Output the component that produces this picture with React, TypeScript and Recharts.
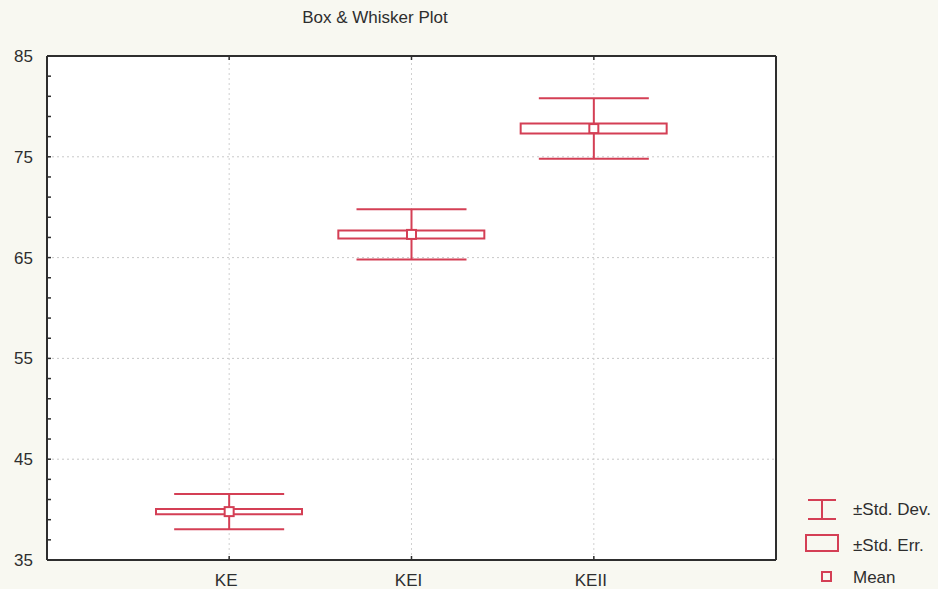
import React from "react";
import {
  ComposedChart,
  Bar,
  Line,
  XAxis,
  YAxis,
  ErrorBar,
  ReferenceLine,
  CartesianGrid,
} from "recharts";

// values
const groups = ["KE", "KEI", "KEII"];
const means = [39.8, 67.3, 77.8];
const stdDevs = [1.75, 2.5, 3.0];
const stdErrs = [0.25, 0.4, 0.5];

const yTicks = [35, 37, 39, 41, 43, 45, 47, 49, 51, 53, 55, 57, 59, 61, 63, 65, 67, 69, 71, 73, 75, 77, 79, 81, 83, 85];
const yLabels = [35, 45, 55, 65, 75, 85];
const gridValues = [45, 55, 65, 75];

const RED = "#d43f55";
const INK = "#2e2e2e";
const FONT = "'Liberation Sans', Arial, sans-serif";

const data = groups.map((name, i) => ({
  name,
  mean: means[i],
  sd: stdDevs[i],
  se: [means[i] - stdErrs[i], means[i] + stdErrs[i]],
}));

// ticks point into the plot, like the original Statistica frame
function LeftTick(props: any) {
  const { x, y, payload } = props;
  const v = payload.value;
  return (
    <g>
      <line x1={x} x2={x + 4} y1={y} y2={y} stroke={INK} strokeWidth={1.5} />
      {yLabels.includes(v) && (
        <text x={x - 14} y={y + 6} textAnchor="end" fontSize={17} fill={INK} fontFamily={FONT}>
          {v}
        </text>
      )}
    </g>
  );
}

function RightTick(props: any) {
  const { x, y } = props;
  return <line x1={x} x2={x - 4} y1={y} y2={y} stroke={INK} strokeWidth={1.5} />;
}

function BottomTick(props: any) {
  const { x, y, payload } = props;
  return (
    <g>
      <line x1={x} x2={x} y1={y} y2={y - 4} stroke={INK} strokeWidth={1.5} />
      <text x={x - 3} y={y + 26} textAnchor="middle" fontSize={17} fill={INK} fontFamily={FONT}>
        {payload.value}
      </text>
    </g>
  );
}

function TopTick(props: any) {
  const { x, y } = props;
  return <line x1={x} x2={x} y1={y} y2={y + 4} stroke={INK} strokeWidth={1.5} />;
}

function MeanDot(props: any) {
  const { cx, cy } = props;
  if (cx == null || cy == null) return null;
  return <rect x={cx - 4.5} y={cy - 4.5} width={9} height={9} fill="#fff" stroke={RED} strokeWidth={2} />;
}

function LegendBox() {
  const t = { fontSize: 17, fill: INK, fontFamily: FONT } as const;
  return (
    <svg width={140} height={100} style={{ position: "absolute", left: 798, top: 489 }}>
      <line x1={10} x2={38} y1={11} y2={11} stroke={RED} strokeWidth={2} />
      <line x1={24} x2={24} y1={11} y2={30} stroke={RED} strokeWidth={2} />
      <line x1={10} x2={38} y1={30} y2={30} stroke={RED} strokeWidth={2} />
      <text x={55} y={26} {...t}>±Std. Dev.</text>
      <rect x={8} y={46} width={32} height={16} fill="none" stroke={RED} strokeWidth={2} />
      <text x={55} y={62} {...t}>±Std. Err.</text>
      <rect x={24} y={83} width={9} height={9} fill="none" stroke={RED} strokeWidth={2} />
      <text x={55} y={94} {...t}>Mean</text>
    </svg>
  );
}

export default function App() {
  return (
    <div
      style={{
        position: "absolute",
        left: 0,
        top: 0,
        width: 938,
        height: 589,
        background: "#f8f8f1",
        overflow: "hidden",
      }}
    >
      <div
        style={{
          position: "absolute",
          left: 0,
          width: 750,
          top: 8,
          textAlign: "center",
          fontFamily: FONT,
          fontSize: 17,
          color: INK,
        }}
      >
        Box &amp; Whisker Plot
      </div>
      <ComposedChart
        width={938}
        height={589}
        data={data}
        margin={{ top: 55, right: 161, bottom: 0, left: 0 }}
      >
        <CartesianGrid fill="#ffffff" horizontal={false} vertical={false} />
        {gridValues.map((v) => (
          <ReferenceLine key={v} y={v} stroke="#c8c8c8" strokeDasharray="2 3" />
        ))}
        {groups.map((g) => (
          <ReferenceLine key={g} x={g} stroke="#d0d0d0" strokeDasharray="2 3" />
        ))}
        <XAxis
          dataKey="name"
          type="category"
          padding={{ left: 91, right: 91 }}
          height={29}
          tickSize={0}
          tickMargin={0}
          tick={<BottomTick />}
          axisLine={{ stroke: INK, strokeWidth: 2 }}
          interval={0}
        />
        <XAxis
          xAxisId="top"
          dataKey="name"
          type="category"
          orientation="top"
          padding={{ left: 91, right: 91 }}
          height={1}
          tickSize={0}
          tickMargin={0}
          tick={<TopTick />}
          axisLine={{ stroke: INK, strokeWidth: 2 }}
          interval={0}
        />
        <YAxis
          domain={[35, 85]}
          ticks={yTicks}
          interval={0}
          width={47}
          tickSize={0}
          tickMargin={0}
          tick={<LeftTick />}
          axisLine={{ stroke: INK, strokeWidth: 2 }}
        />
        <YAxis
          yAxisId="r"
          orientation="right"
          domain={[35, 85]}
          ticks={yTicks}
          interval={0}
          width={1}
          tickSize={0}
          tickMargin={0}
          tick={<RightTick />}
          axisLine={{ stroke: INK, strokeWidth: 2 }}
        />
        <Line dataKey="mean" stroke="none" dot={false} isAnimationActive={false}>
          <ErrorBar dataKey="sd" width={55} stroke={RED} strokeWidth={2} direction="y" />
        </Line>
        <Bar
          dataKey="se"
          barSize={146}
          fill="#ffffff"
          stroke={RED}
          strokeWidth={2}
          isAnimationActive={false}
        />
        <Line dataKey="mean" stroke="none" dot={<MeanDot />} activeDot={false} isAnimationActive={false} />
      </ComposedChart>
      <LegendBox />
    </div>
  );
}
